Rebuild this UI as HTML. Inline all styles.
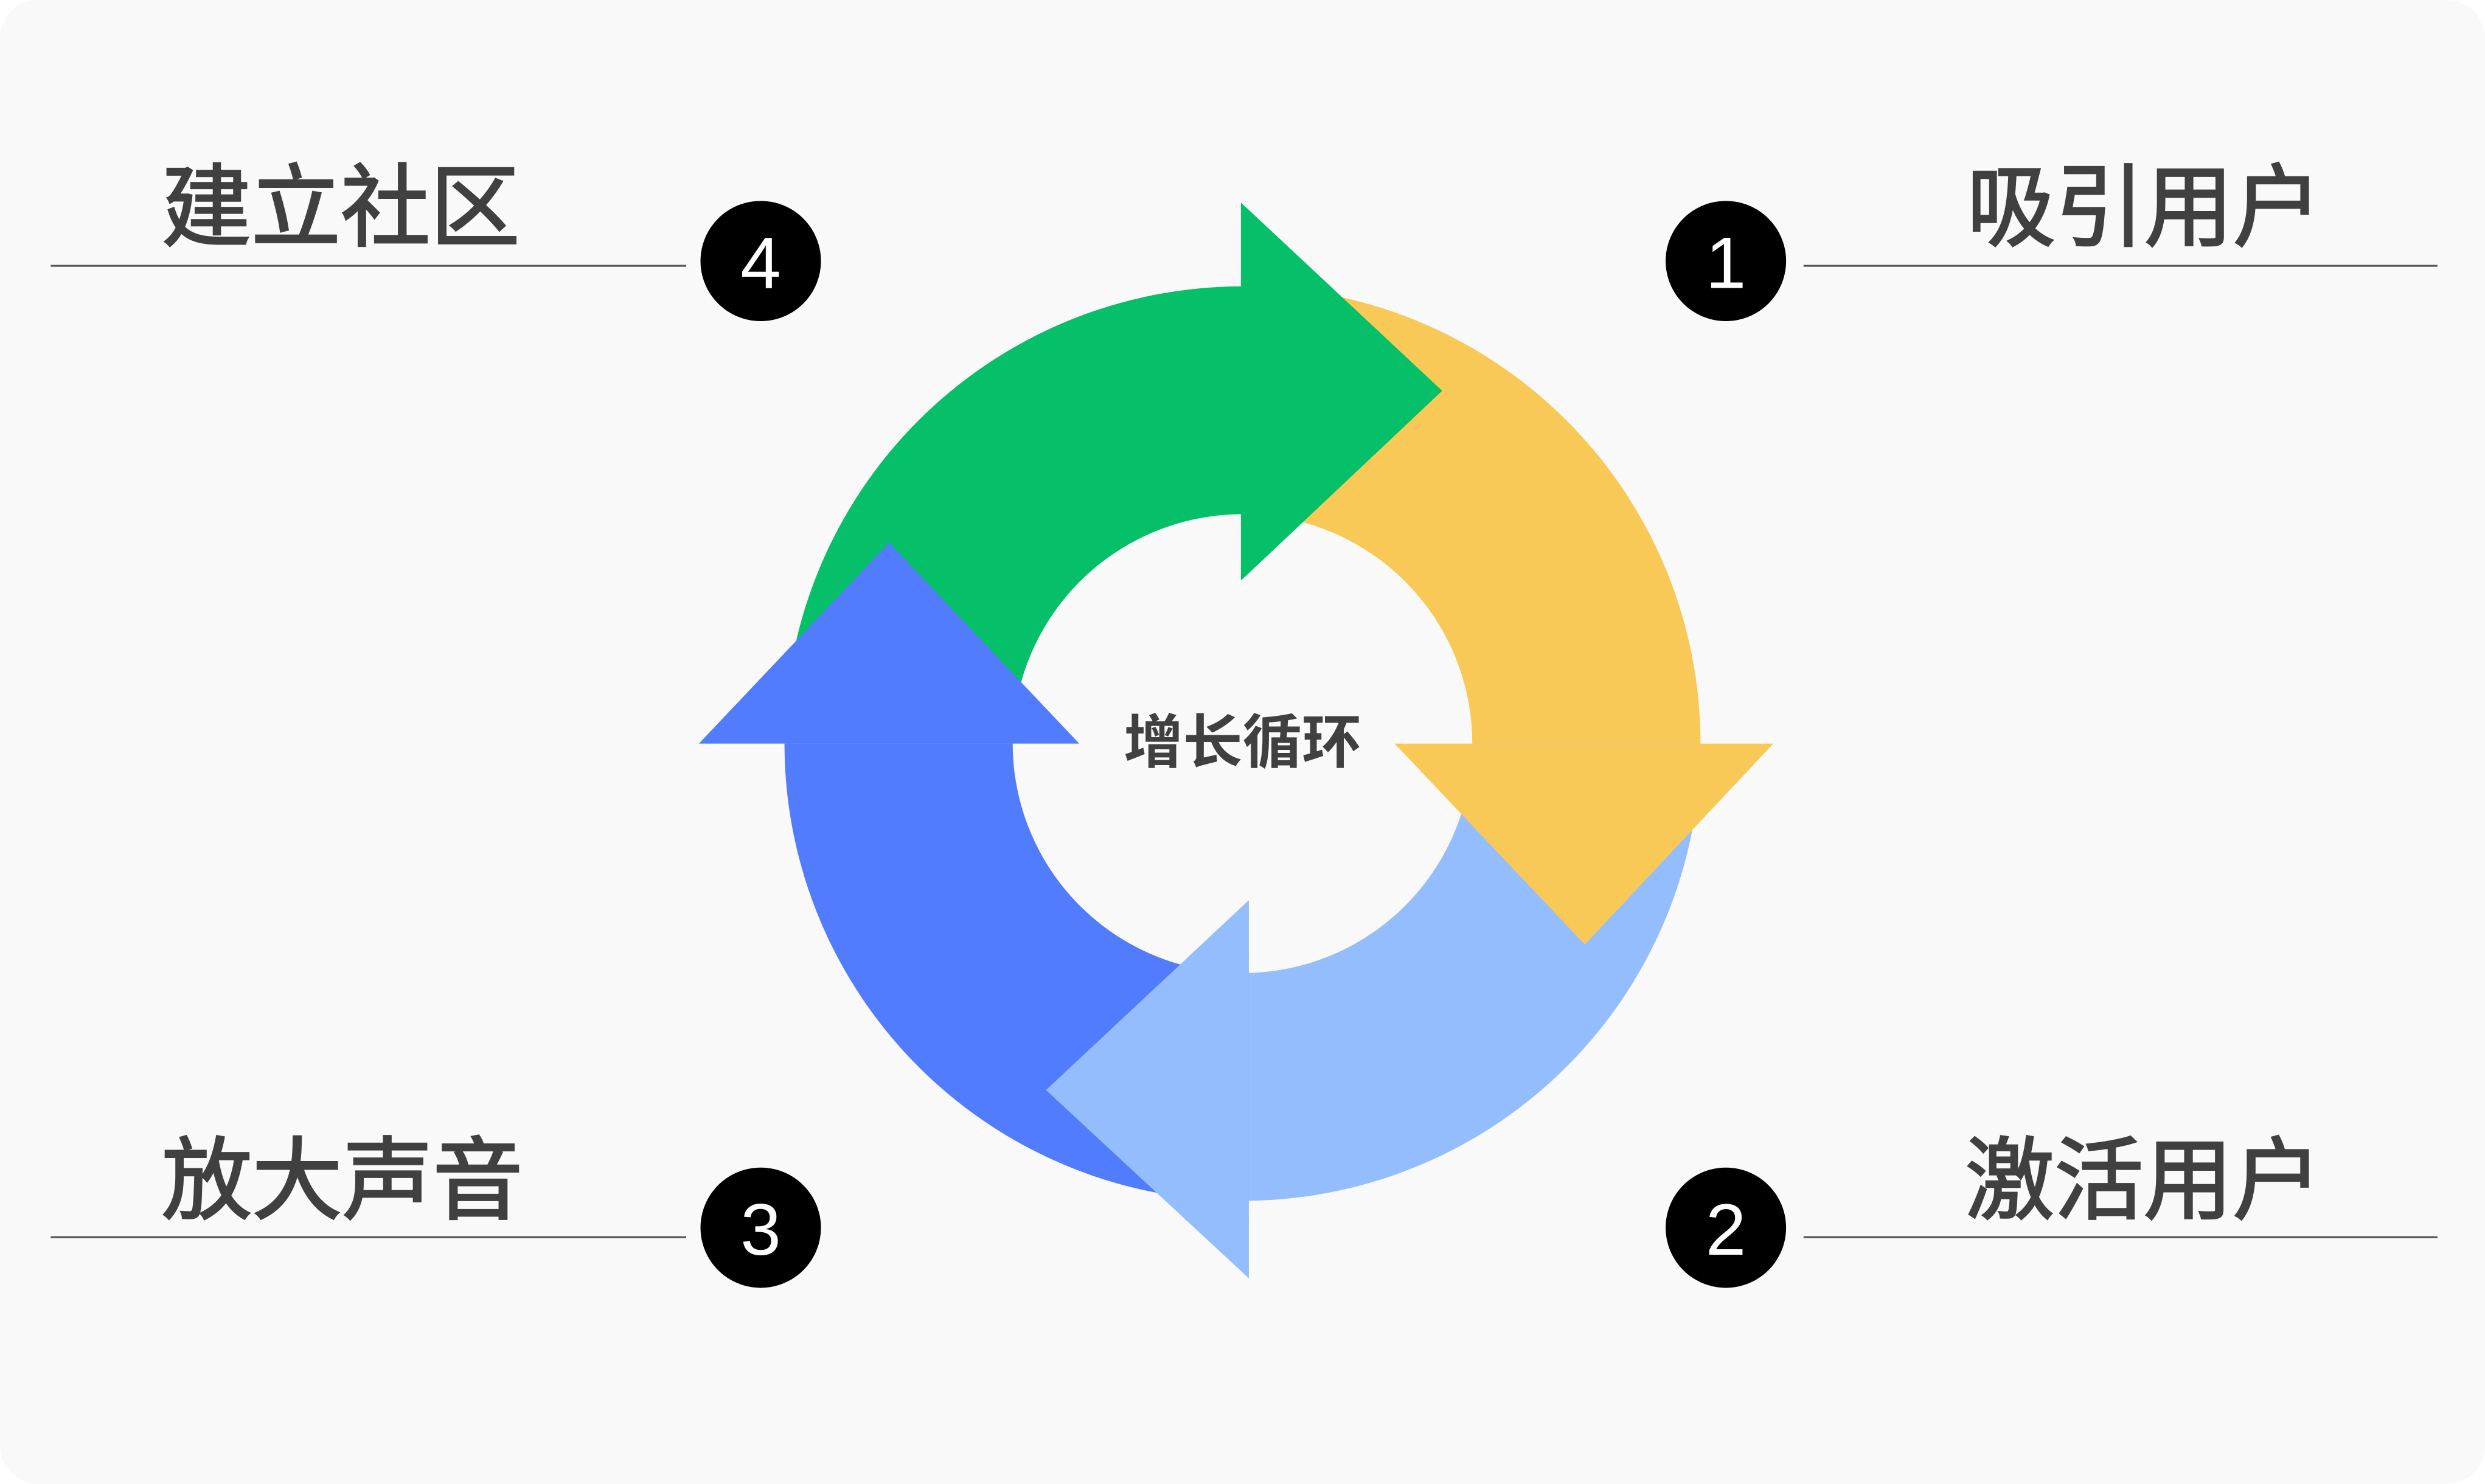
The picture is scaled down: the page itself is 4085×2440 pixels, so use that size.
<!DOCTYPE html>
<html><head><meta charset="utf-8"><style>
html,body{margin:0;padding:0;background:#fff;}
svg{display:block;}
text{font-family:"Liberation Sans","Noto Sans CJK SC",sans-serif;}
</style></head><body>
<svg width="4085" height="2440" viewBox="0 0 1568 938" preserveAspectRatio="none" xmlns="http://www.w3.org/2000/svg">
<rect x="0" y="0" width="1568" height="938" rx="24" fill="#faf9f9"/>
<g transform="translate(784,470)">
<path d="M-289,0 A289,289 0 0 1 0,-289 L0,-145 A145,145 0 0 0 -145,0 Z" fill="#05c068"/>
<path d="M0,-289 A289,289 0 0 1 289,0 L145,0 A145,145 0 0 0 0,-145 Z" fill="#f9c957"/>
<path d="M289,0 A289,289 0 0 1 4,289 L4,145 A145,145 0 0 0 145,0 Z" fill="#94bdfd"/>
<path d="M4,289 A289,289 0 0 1 -289,0 L-145,0 A145,145 0 0 0 4,145 Z" fill="#517cfd"/>
</g>
<polygon points="783,128 910,247 783,367" fill="#05c068"/>
<polygon points="880,470 1119,470 1000,597" fill="#f9c957"/>
<polygon points="788,569 788,808 660,689" fill="#94bdfd"/>
<polygon points="441,470 681,470 561,343" fill="#517cfd"/>
<text x="784" y="482" text-anchor="middle" font-size="37" font-weight="bold" fill="#404040" textLength="150" lengthAdjust="spacingAndGlyphs">增长循环</text>
<g stroke="#555" stroke-width="1.2">
<line x1="32" y1="168" x2="433" y2="168"/>
<line x1="1138" y1="168" x2="1538" y2="168"/>
<line x1="32" y1="782" x2="433" y2="782"/>
<line x1="1138" y1="782" x2="1538" y2="782"/>
</g>
<g fill="#000">
<circle cx="480" cy="165" r="38"/>
<circle cx="1089" cy="165" r="38"/>
<circle cx="480" cy="776" r="38"/>
<circle cx="1089" cy="776" r="38"/>
</g>
<g fill="#fff" font-size="46" text-anchor="middle">
<text x="480" y="182">4</text>
<text x="1089" y="182">1</text>
<text x="480" y="793">3</text>
<text x="1089" y="793">2</text>
</g>
<g fill="#404040" stroke="#404040" stroke-width="1.2" font-size="57">
<text x="102" y="151" textLength="226" lengthAdjust="spacingAndGlyphs">建立社区</text>
<text x="1241" y="151" textLength="224" lengthAdjust="spacingAndGlyphs">吸引用户</text>
<text x="102" y="766" textLength="228" lengthAdjust="spacingAndGlyphs">放大声音</text>
<text x="1240" y="766" textLength="225" lengthAdjust="spacingAndGlyphs">激活用户</text>
</g>
</svg>
</body></html>
